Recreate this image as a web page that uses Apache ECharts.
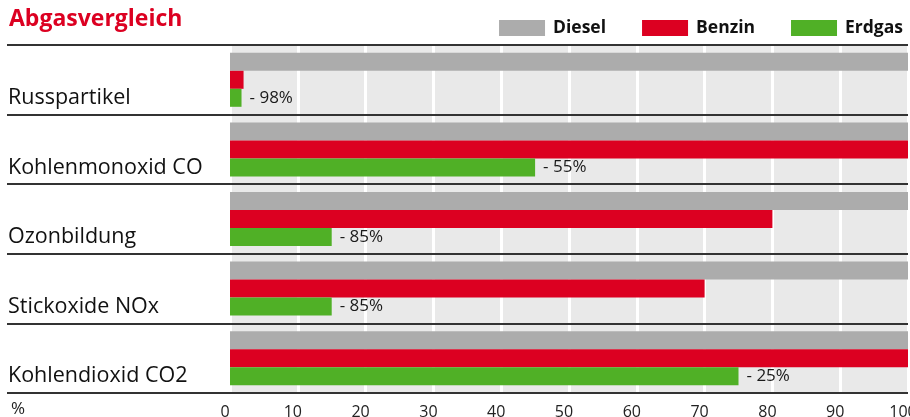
<!DOCTYPE html>
<html lang="de">
  <head>
    <meta charset="utf-8" />
    <script src="https://cdn.jsdelivr.net/npm/echarts@6/dist/echarts.min.js"></script>
    <title>Abgasvergleich</title>
    <style>
      html, body { margin: 0; padding: 0; background: #fff; }
      #chart { width: 910px; height: 417px; }
    </style>
  </head>
  <body>
    <div id="chart"></div>
    <script>
      // Werte in Prozent (Diesel = 100)
      var categories = ['Russpartikel', 'Kohlenmonoxid CO', 'Ozonbildung', 'Stickoxide NOx', 'Kohlendioxid CO2']
      var diesel = [100, 100, 100, 100, 100]
      var benzin = [2, 100, 80, 70, 100]
      var erdgas = [1.7, 45, 15, 15, 75]
      var erdgasLabels = ['- 98%', '- 55%', '- 85%', '- 85%', '- 25%']
      var xTicks = [0, 10, 20, 30, 40, 50, 60, 70, 80, 90, 100]

      var font = '"Open Sans", sans-serif'
      var chart = echarts.init(document.getElementById('chart'))

      chart.setOption({
        animation: false,
        textStyle: { fontFamily: font },
        title: [
          {
            text: 'Abgasvergleich', left: 4, top: 3,
            textStyle: { color: '#dc0021', fontSize: 23, fontWeight: 'bold', fontFamily: font }
          },
          {
            text: '%', left: 6, bottom: -6,
            textStyle: { color: '#222', fontSize: 17, fontWeight: 'normal', fontFamily: font }
          }
        ],
        legend: {
          data: ['Diesel', 'Benzin', 'Erdgas'],
          right: 2, top: 14,
          icon: 'rect', itemWidth: 46, itemHeight: 16, itemGap: 36,
          textStyle: { fontSize: 17.5, fontWeight: 'bold', color: '#111', padding: [0, 0, 0, 3] }
        },
        grid: [
          { left: 7, right: 2, top: 45, bottom: 24, outerBoundsMode: 'none', containLabel: false },
          {
            left: 230, right: 2, top: 45, bottom: 24, outerBoundsMode: 'none', containLabel: false,
            show: true, backgroundColor: '#e9e9e9', borderWidth: 0
          }
        ],
        xAxis: [
          { type: 'value', gridIndex: 0, show: false, min: 0, max: 100 },
          {
            type: 'value', gridIndex: 1, min: 0, max: 100, interval: 10,
            axisLine: { show: false }, axisTick: { show: false },
            splitLine: { show: true, lineStyle: { color: '#fff', width: 3 } },
            axisLabel: {
              color: '#222', fontSize: 16, margin: 11, padding: [0, 10, 0, 0],
              formatter: function (v) { return xTicks.indexOf(v) >= 0 ? String(v) : '' }
            }
          }
        ],
        yAxis: [
          {
            type: 'category', gridIndex: 0, data: categories, inverse: true, z: 3,
            axisLine: { show: false }, axisTick: { show: false },
            splitLine: { show: true, lineStyle: { color: '#333', width: 2 } },
            axisLabel: {
              inside: true, margin: 1, fontSize: 21.5, color: '#111',
              verticalAlign: 'top', lineHeight: 36
            }
          },
          { type: 'category', gridIndex: 1, data: categories, inverse: true, show: false }
        ],
        series: [
          {
            name: 'Diesel', type: 'bar', xAxisIndex: 1, yAxisIndex: 1, data: diesel,
            barWidth: 18, barGap: '0%', itemStyle: { color: '#acacac' }
          },
          {
            name: 'Benzin', type: 'bar', xAxisIndex: 1, yAxisIndex: 1, data: benzin,
            barWidth: 18, barGap: '0%', itemStyle: { color: '#dc0021' }
          },
          {
            name: 'Erdgas', type: 'bar', xAxisIndex: 1, yAxisIndex: 1, data: erdgas,
            barWidth: 18, barGap: '0%', itemStyle: { color: '#50b026' },
            label: {
              show: true, position: 'right', distance: 8, color: '#1a1a1a', fontSize: 17,
              formatter: function (p) { return erdgasLabels[p.dataIndex] }
            }
          }
        ]
      })
    </script>
  </body>
</html>
